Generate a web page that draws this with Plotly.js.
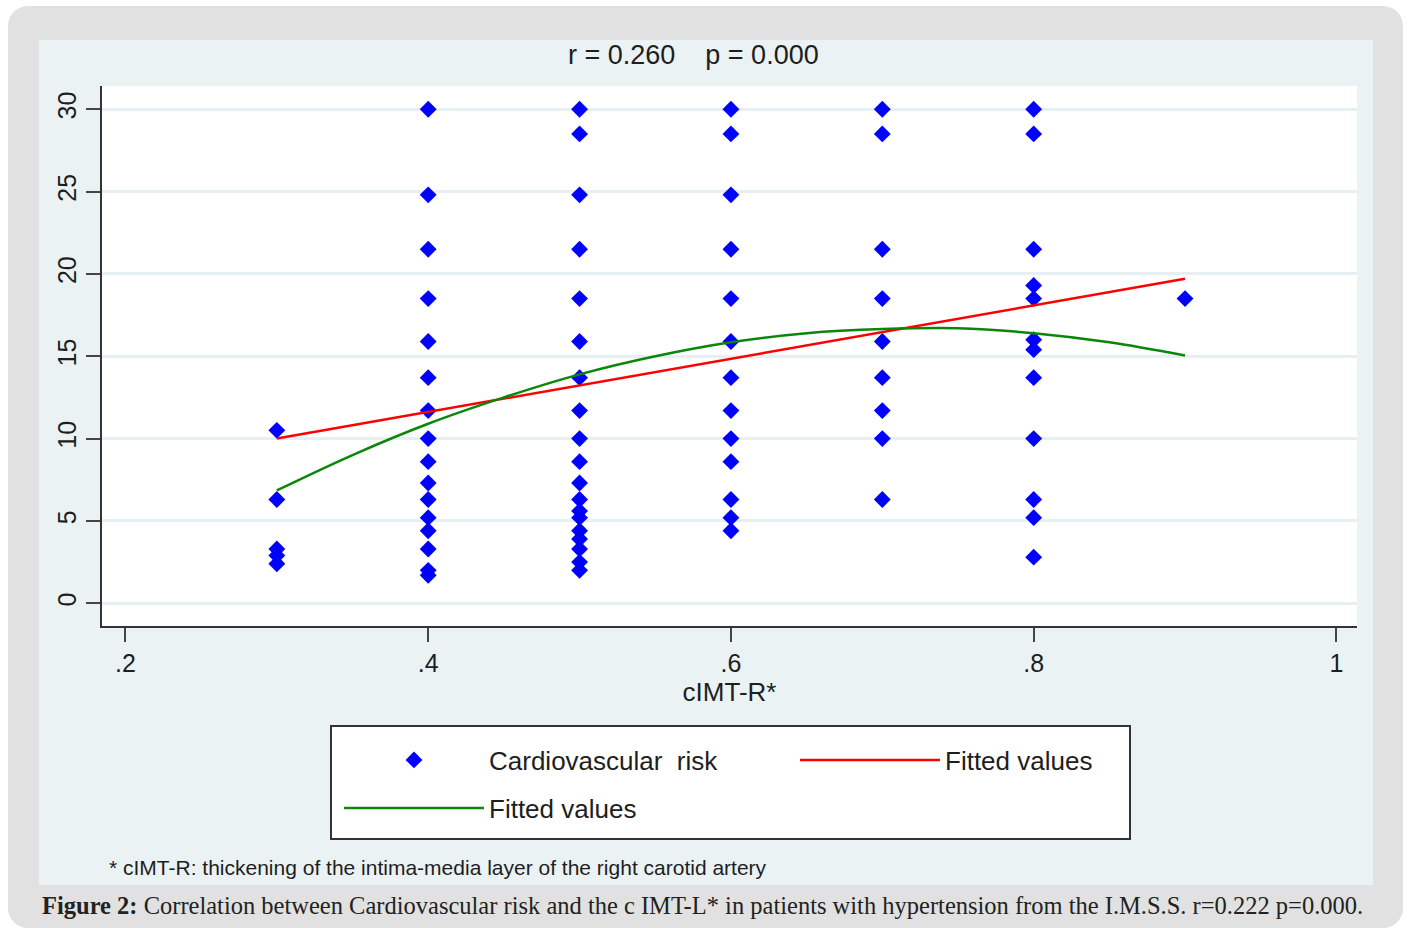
<!DOCTYPE html>
<html>
<head>
<meta charset="utf-8">
<script src="https://cdn.plot.ly/plotly-3.0.1.min.js"></script>
<style>
  html, body { margin: 0; padding: 0; background: #ffffff; }
  #outer { position: absolute; left: 8px; top: 6px; width: 1395px; height: 922px; background: #e1e1e1; border-radius: 20px; }
  #panel { position: absolute; left: 39px; top: 40px; width: 1334px; height: 845px; background: #eaf2f3; }
  #chart { position: absolute; left: 0; top: 0; width: 1410px; height: 929px; }
</style>
</head>
<body>
<div id="outer"></div>
<div id="panel"></div>
<div id="chart"></div>
<script>
// ---- data ----
const cimtLevels = [0.3, 0.4, 0.5, 0.6, 0.7, 0.8, 0.9];
const riskAt03 = [10.5, 6.3, 3.3, 2.9, 2.4];
const riskAt04 = [30, 24.8, 21.5, 18.5, 15.9, 13.7, 11.7, 10, 8.6, 7.3, 6.3, 5.2, 4.4, 3.3, 2.0, 1.7];
const riskAt05 = [30, 28.5, 24.8, 21.5, 18.5, 15.9, 13.7, 11.7, 10, 8.6, 7.3, 6.3, 5.6, 5.2, 4.4, 3.9, 3.3, 2.5, 2.0];
const riskAt06 = [30, 28.5, 24.8, 21.5, 18.5, 15.9, 13.7, 11.7, 10, 8.6, 6.3, 5.2, 4.4];
const riskAt07 = [30, 28.5, 21.5, 18.5, 15.9, 13.7, 11.7, 10, 6.3];
const riskAt08 = [30, 28.5, 21.5, 19.3, 18.5, 16.0, 15.4, 13.7, 10, 6.3, 5.2, 2.8];
const riskAt09 = [18.5];

// linear fit (red) end points
const linFitX = [0.3, 0.9];
const linFitY = [10.0, 19.7];
// quadratic fit (green)
const quadFitX = [0.3, 0.35, 0.4, 0.45, 0.5, 0.55, 0.6, 0.65, 0.7, 0.75, 0.8, 0.85, 0.9];
const quadFitY = [6.85, 9.0, 10.9, 12.5, 13.9, 15.0, 15.85, 16.4, 16.65, 16.7, 16.4, 15.85, 15.05];

const xTickVals = [0.2, 0.4, 0.6, 0.8, 1];
const xTickText = ['.2', '.4', '.6', '.8', '1'];
const yTickVals = [0, 5, 10, 15, 20, 25, 30];

const titleText = 'r = 0.260' + '\u00a0\u00a0\u00a0\u00a0' + 'p = 0.000';
const xTitle = 'cIMT-R*';
const seriesNames = ['Cardiovascular\u00a0 risk', 'Fitted values', 'Fitted values'];
const footnote = '* cIMT-R: thickening of the intima-media layer of the right carotid artery';
const caption = '<b>Figure 2:</b> Correlation between Cardiovascular risk and the c IMT-L* in patients with hypertension from the I.M.S.S. r=0.222 p=0.000.';

// ---- build ----
const groups = [riskAt03, riskAt04, riskAt05, riskAt06, riskAt07, riskAt08, riskAt09];
const sx = [], sy = [];
groups.forEach((g, i) => g.forEach(v => { sx.push(cimtLevels[i]); sy.push(v); }));

// page-pixel helpers for the plot area
const L = 102, R = 1357, T = 86, B = 626;
const px2x = p => (p - L) / (R - L);
const py2y = p => (B - p) / (B - T);

const FONT = 'Liberation Sans, Arial, sans-serif';
const TXT = '#1e1e1e';

const traces = [
  { type: 'scatter', mode: 'markers', x: sx, y: sy, name: seriesNames[0],
    marker: { symbol: 'diamond', size: 13, color: '#0000ff' }, legend: 'legend' },
  { type: 'scatter', mode: 'lines', x: linFitX, y: linFitY, name: seriesNames[1],
    line: { color: '#ff0000', width: 2.5 }, legend: 'legend' },
  { type: 'scatter', mode: 'lines', x: quadFitX, y: quadFitY, name: seriesNames[2],
    line: { color: '#0a870a', width: 2.5, shape: 'spline' }, legend: 'legend2' }
];

const legendCommon = {
  orientation: 'h', xanchor: 'left', yanchor: 'middle', xref: 'paper', yref: 'paper',
  bgcolor: 'rgba(0,0,0,0)', borderwidth: 0, itemwidth: 140,
  font: { family: FONT, size: 26, color: TXT }, itemclick: false, itemdoubleclick: false
};

const layout = {
  width: 1410, height: 929,
  margin: { l: L, r: 1410 - R, t: T, b: 929 - B, autoexpand: false },
  paper_bgcolor: 'rgba(0,0,0,0)', plot_bgcolor: '#ffffff',
  font: { family: FONT, color: TXT },
  showlegend: true,
  xaxis: {
    range: [0.1845, 1.0136], tickvals: xTickVals, ticktext: xTickText,
    showgrid: false, zeroline: false, showline: true, linecolor: '#333333', linewidth: 2,
    ticks: 'outside', ticklen: 14, tickwidth: 2, tickcolor: '#444444',
    tickfont: { family: FONT, size: 25, color: TXT },
    title: { text: xTitle, font: { family: FONT, size: 26, color: TXT }, standoff: 3 }
  },
  yaxis: {
    range: [-1.38, 31.41], tickvals: yTickVals, tickangle: -90,
    showgrid: true, gridcolor: '#e6eff1', gridwidth: 3, zeroline: false,
    showline: true, linecolor: '#333333', linewidth: 2,
    ticks: 'outside', ticklen: 14, tickwidth: 2, tickcolor: '#444444',
    tickfont: { family: FONT, size: 25, color: TXT }
  },
  legend: Object.assign({}, legendCommon, { x: px2x(339), y: py2y(760), entrywidth: 301 }),
  legend2: Object.assign({}, legendCommon, { x: px2x(339), y: py2y(808) }),
  shapes: [
    { type: 'rect', xref: 'paper', yref: 'paper', layer: 'above',
      x0: px2x(331), x1: px2x(1130), y0: py2y(726), y1: py2y(839),
      fillcolor: '#ffffff', line: { color: '#333333', width: 2 } }
  ],
  annotations: [
    { text: titleText, xref: 'paper', yref: 'paper', x: px2x(693), y: py2y(55),
      xanchor: 'center', yanchor: 'middle', showarrow: false,
      font: { family: FONT, size: 27, color: TXT } },
    { text: footnote, xref: 'paper', yref: 'paper', x: px2x(107), y: py2y(867),
      xanchor: 'left', yanchor: 'middle', showarrow: false,
      font: { family: 'Liberation Sans Narrow, Arial Narrow, Liberation Sans, sans-serif', size: 21, color: TXT } },
    { text: caption, xref: 'paper', yref: 'paper', x: px2x(40), y: py2y(905),
      xanchor: 'left', yanchor: 'middle', showarrow: false,
      font: { family: 'Liberation Serif, Times New Roman, serif', size: 24.5, color: '#222222' } }
  ]
};

Plotly.newPlot('chart', traces, layout, { displayModeBar: false, staticPlot: true });
</script>
</body>
</html>
